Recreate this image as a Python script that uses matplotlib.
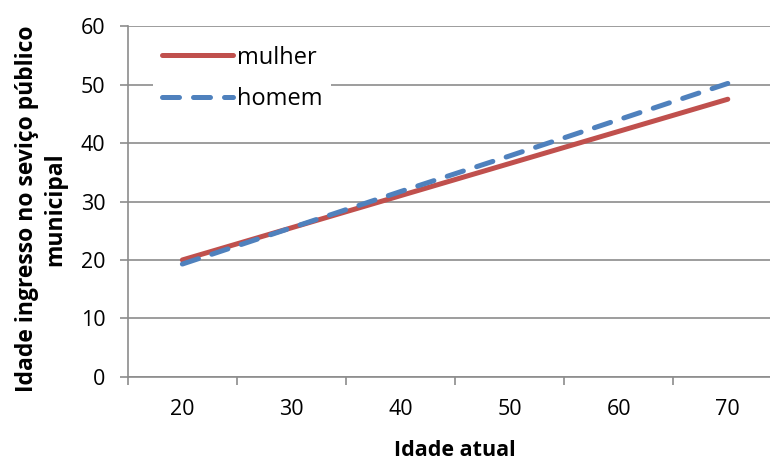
import matplotlib.pyplot as plt
import numpy as np

# Ages (category axis) and fitted entry ages per sex
idade_atual = [20, 30, 40, 50, 60, 70]
mulher = [20.0, 25.5, 31.0, 36.5, 42.0, 47.5]
homem = [19.3, 25.5, 31.7, 37.8, 44.0, 50.2]

plt.rcParams['font.family'] = ['Open Sans', 'DejaVu Sans']

fig = plt.figure(figsize=(7.7, 4.59), dpi=100)
ax = fig.add_axes([0.166, 0.179, 0.85, 0.764])

red = "#C0504D"
blue = "#4F81BD"
grid = "#8C8C8C"

ax.plot(idade_atual, mulher, color=red, lw=3.6, solid_capstyle="round", label="mulher", zorder=3)
ax.plot(idade_atual, homem, color=blue, lw=3.6, dashes=(3.4, 2.8), dash_capstyle="round",
        label="homem", zorder=4)

ax.set_xlim(15, 75)
ax.set_ylim(0, 60)

# category-style x axis: tick marks between labels
ax.set_xticks(np.arange(15, 76, 10))
ax.set_xticklabels([])
ax.set_xticks(idade_atual, minor=True)
ax.set_xticklabels([str(v) for v in idade_atual], minor=True)
ax.tick_params(axis="x", which="minor", length=0, pad=16, labelsize=15.5)
ax.tick_params(axis="x", which="major", length=6, width=1.2, color=grid, direction="out")

ax.set_yticks(np.arange(0, 61, 10))
ax.tick_params(axis="y", length=6, width=1.2, color=grid, labelsize=15.5, pad=10)

ax.yaxis.grid(True, color=grid, lw=1.2)
ax.set_axisbelow(True)
for s in ["top", "right"]:
    ax.spines[s].set_visible(False)
for s in ["left", "bottom"]:
    ax.spines[s].set_color(grid)
    ax.spines[s].set_linewidth(1.2)

ax.set_ylabel("Idade ingresso no seviço público\nmunicipal", fontsize=16.5, fontweight="bold",
              linespacing=1.25, labelpad=10)
ax.yaxis.label.set_y(0.478)
ax.set_xlabel("Idade atual", fontsize=15.5, fontweight="bold", labelpad=14)

leg = ax.legend(loc="upper left", bbox_to_anchor=(0.02, 1.005), fontsize=17, frameon=True,
                fancybox=False, edgecolor="white", framealpha=1, handlelength=3.0,
                handletextpad=0.15, labelspacing=0.75, borderpad=0.4)
leg.get_frame().set_linewidth(0)

fig.savefig("out.png", dpi=100)
